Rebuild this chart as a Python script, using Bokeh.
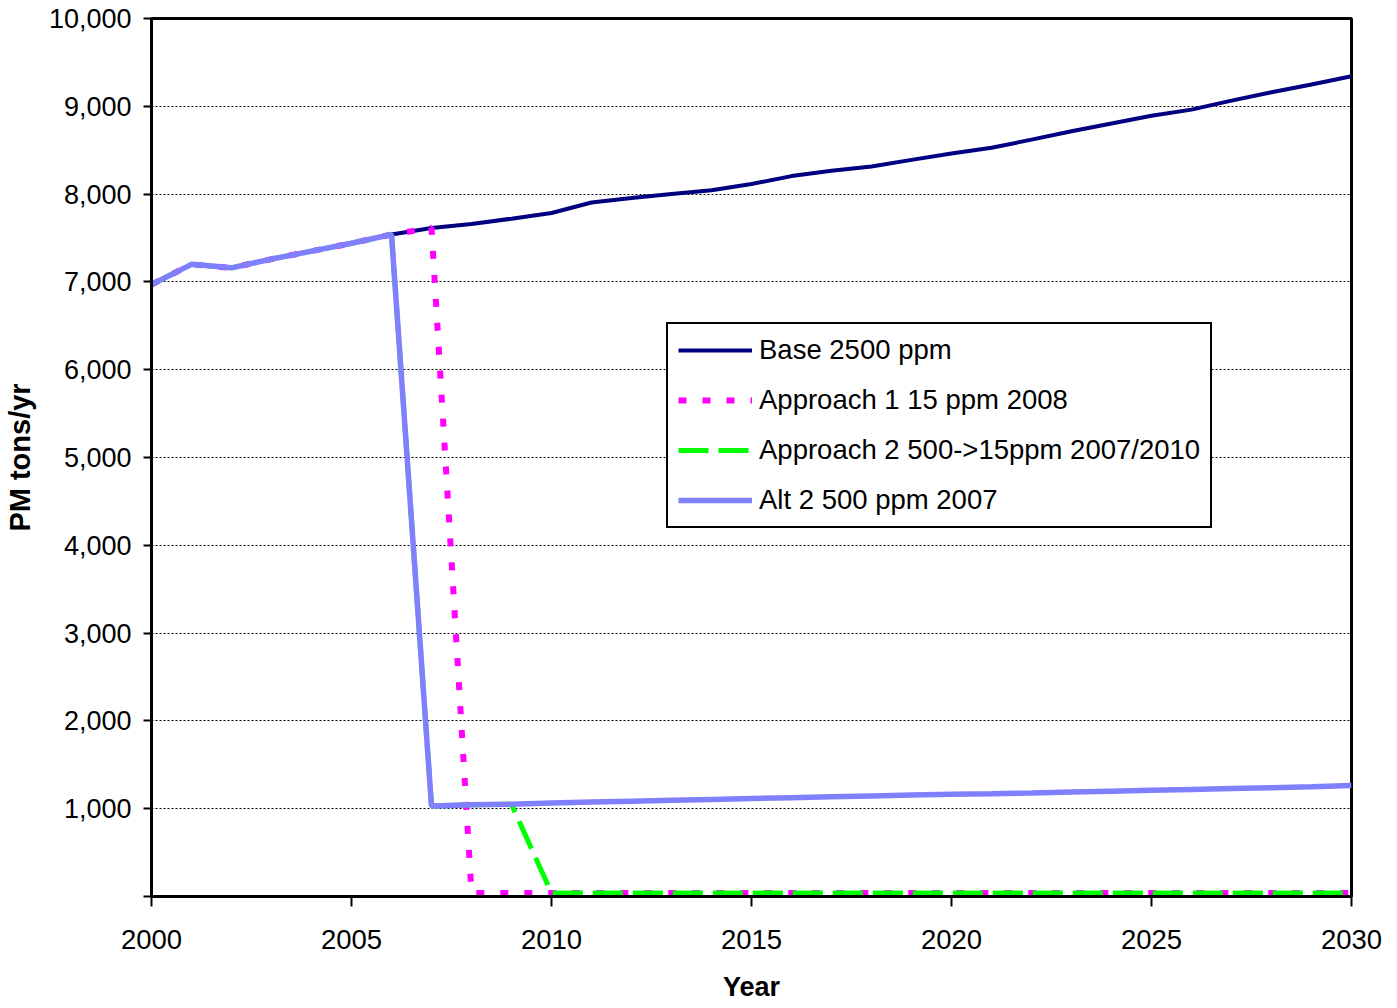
from bokeh.plotting import figure
from bokeh.models import Range1d, FixedTicker, NumeralTickFormatter, Legend, LegendItem
from bokeh.embed import file_html
from bokeh.resources import INLINE

years = list(range(2000, 2031))
base = [6970, 7200, 7160, 7260, 7350, 7440, 7540, 7615, 7660, 7720, 7785,
        7905, 7955, 8000, 8045, 8115, 8205, 8265, 8315, 8390, 8462,
        8527, 8620, 8715, 8805, 8893, 8962, 9065, 9160, 9248, 9343]
approach1 = [6970, 7200, 7160, 7260, 7350, 7440, 7540, 7615, 40, 40, 40,
             40, 40, 40, 40, 40, 40, 40, 40, 40, 40,
             40, 40, 40, 40, 40, 40, 40, 40, 40, 40]
approach2 = [6970, 7200, 7160, 7260, 7350, 7440, 7540, 1030, 1045, 1050, 40,
             40, 40, 40, 40, 40, 40, 40, 40, 40, 40,
             40, 40, 40, 40, 40, 40, 40, 40, 40, 40]
alt2 = [6970, 7200, 7160, 7260, 7350, 7440, 7540, 1030, 1045, 1050, 1065,
        1075, 1085, 1095, 1105, 1115, 1125, 1135, 1145, 1155, 1165,
        1170, 1178, 1190, 1200, 1210, 1220, 1230, 1240, 1250, 1265]

series_names = ["Base 2500 ppm", "Approach 1 15 ppm 2008",
                "Approach 2 500->15ppm 2007/2010", "Alt 2 500 ppm 2007"]
x_ticks = [2000, 2005, 2010, 2015, 2020, 2025, 2030]
y_ticks = [0, 1000, 2000, 3000, 4000, 5000, 6000, 7000, 8000, 9000, 10000]

FONT = "Liberation Sans"

p = figure(width=1390, height=1005, output_backend="svg", toolbar_location=None,
           x_range=Range1d(2000, 2030), y_range=Range1d(0, 10000),
           min_border_left=151, min_border_top=18, min_border_right=39,
           min_border_bottom=109)
p.background_fill_color = "white"
p.border_fill_color = "white"
p.outline_line_color = "black"
p.outline_line_width = 3

r_base = p.line(years, base, line_color="#000080", line_width=4)
r_a1 = p.line(years, approach1, line_color="#FF00FF", line_width=6, line_dash="8 16")
r_a2 = p.line(years, approach2, line_color="#00FF00", line_width=5, line_dash="30 10")
r_alt = p.line(years, alt2, line_color="#8080FF", line_width=5.5)

legend = Legend(items=[LegendItem(label=series_names[0], renderers=[r_base]),
                       LegendItem(label=series_names[1], renderers=[r_a1]),
                       LegendItem(label=series_names[2], renderers=[r_a2]),
                       LegendItem(label=series_names[3], renderers=[r_alt])],
                location=(515, 368))
legend.label_text_font = FONT
legend.label_text_font_size = "27.5px"
legend.label_text_color = "black"
legend.glyph_width = 74
legend.glyph_height = 20
legend.label_height = 30
legend.label_standoff = 7
legend.spacing = 18
legend.padding = 10
legend.margin = 0
legend.border_line_color = "black"
legend.border_line_width = 2
legend.border_line_alpha = 1.0
legend.background_fill_color = "white"
legend.background_fill_alpha = 1.0
p.add_layout(legend)

# axes
xa = p.xaxis[0]
xa.ticker = FixedTicker(ticks=x_ticks)
xa.axis_label = "Year"
xa.axis_label_text_font = FONT
xa.axis_label_text_font_style = "bold"
xa.axis_label_text_font_size = "27px"
xa.axis_label_text_color = "black"
xa.axis_label_standoff = 20
xa.major_label_text_font = FONT
xa.major_label_text_font_size = "27.5px"
xa.major_label_text_color = "black"
xa.major_label_standoff = 23
xa.major_tick_in = 0
xa.major_tick_out = 10
xa.major_tick_line_width = 2
xa.minor_tick_line_color = None
xa.axis_line_width = 3
xa.axis_line_color = "black"

ya = p.yaxis[0]
ya.ticker = FixedTicker(ticks=y_ticks)
ya.formatter = NumeralTickFormatter(format="0,0")
ya.major_label_overrides = {0: ""}
ya.axis_label = "PM tons/yr"
ya.axis_label_text_font = FONT
ya.axis_label_text_font_style = "bold"
ya.axis_label_text_font_size = "29px"
ya.axis_label_text_color = "black"
ya.axis_label_standoff = 10
ya.major_label_text_font = FONT
ya.major_label_text_font_size = "27px"
ya.major_label_text_color = "black"
ya.major_label_standoff = 12
ya.major_tick_in = 0
ya.major_tick_out = 8
ya.major_tick_line_width = 2
ya.minor_tick_line_color = None
ya.axis_line_width = 3
ya.axis_line_color = "black"

p.xgrid.grid_line_color = None
p.ygrid.ticker = FixedTicker(ticks=y_ticks)
p.ygrid.grid_line_color = "black"
p.ygrid.grid_line_width = 1
p.ygrid.grid_line_dash = "2 2"

open("out.html", "w").write(file_html(p, INLINE))
